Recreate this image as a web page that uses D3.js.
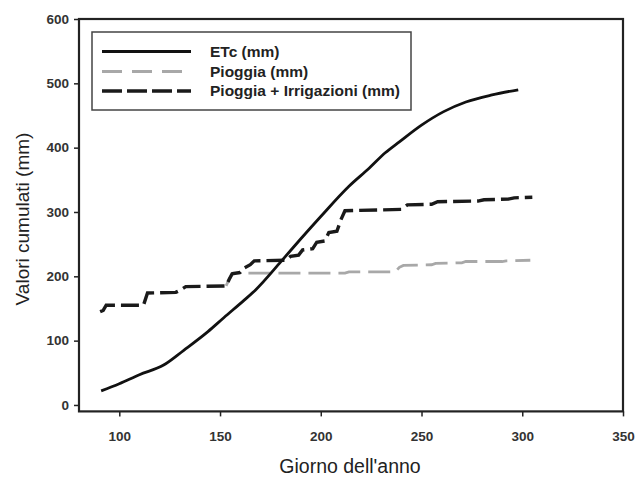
<!DOCTYPE html>
<html>
<head>
<meta charset="utf-8">
<script src="https://cdn.jsdelivr.net/npm/d3@7"></script>
<style>
  html, body { margin: 0; padding: 0; background: #fff; }
  svg { display: block; }
</style>
</head>
<body>
<svg id="chart" width="637" height="477"></svg>
<script>
// ---- data ----
const etcDays   = [91, 100, 110, 122, 132, 144, 152, 162, 168, 180, 190, 200, 214, 224, 232, 239, 250, 261, 272, 285, 298];
const etcValues = [22, 33, 47, 62, 85, 114, 136, 163, 180, 222, 258, 293, 340, 368, 392, 409, 435, 456, 471, 482, 490];

const rainDays   = [153, 154.5, 156.5, 212, 214, 237, 239, 241, 255, 257, 270, 272, 290, 292, 304];
const rainValues = [185, 195, 205, 205, 207, 207, 214, 217, 218, 220, 221, 223, 223, 224, 225];

const irrDays   = [90.5, 92, 93.5, 112, 114, 128, 130, 133, 153, 154.5, 156, 160, 162, 165, 167, 183, 185, 189, 191, 196, 198, 202, 204, 208, 210, 212, 240, 243, 255, 258, 278, 281, 293, 296, 305];
const irrValues = [145, 147, 155, 155, 174, 175, 178, 184, 185, 195, 204, 206, 213, 218, 224, 225, 231, 233, 241, 243, 253, 255, 268, 270, 288, 302, 304, 311, 312, 316, 317, 319, 320, 322, 323];

const xTicks = [100, 150, 200, 250, 300, 350];
const yTicks = [0, 100, 200, 300, 400, 500, 600];

const legendLabels = ["ETc (mm)", "Pioggia  (mm)", "Pioggia + Irrigazioni (mm)"];
const xTitle = "Giorno dell'anno";
const yTitle = "Valori cumulati (mm)";

// ---- drawing ----
const svg = d3.select("#chart");
const x = d3.scaleLinear().domain([80, 350]).range([79, 623]);
const y = d3.scaleLinear().domain([-10, 600]).range([411.4, 19]);

const zip = (a, b) => a.map((d, i) => [d, b[i]]);
const line = d3.line().x(d => x(d[0])).y(d => y(d[1]));
const smooth = d3.line().x(d => x(d[0])).y(d => y(d[1])).curve(d3.curveMonotoneX);

// axes
const fontTick = "bold 13.5px 'Liberation Sans', Arial, sans-serif";
const xAxis = d3.axisBottom(x).tickValues(xTicks).tickSize(5).tickPadding(15).tickFormat(d3.format("d"));
const yAxis = d3.axisLeft(y).tickValues(yTicks).tickSize(5).tickPadding(5).tickFormat(d3.format("d"));

const gx = svg.append("g").attr("transform", "translate(0,411.4)").call(xAxis);
const gy = svg.append("g").attr("transform", "translate(79,0)").call(yAxis);
[gx, gy].forEach(g => {
  g.select(".domain").remove();
  g.selectAll(".tick line").attr("stroke", "#222").attr("stroke-width", 1.5);
  g.selectAll(".tick text").style("font", fontTick).attr("fill", "#333");
});

// frame
svg.append("rect")
  .attr("x", 79).attr("y", 19)
  .attr("width", 623 - 79).attr("height", 411.4 - 19)
  .attr("fill", "none").attr("stroke", "#222").attr("stroke-width", 2.2);

// series
svg.append("path").datum(zip(rainDays, rainValues))
  .attr("d", line).attr("fill", "none")
  .attr("stroke", "#a8a8a8").attr("stroke-width", 2.8)
  .attr("stroke-dasharray", "22,8");

svg.append("path").datum(zip(irrDays, irrValues))
  .attr("d", line).attr("fill", "none")
  .attr("stroke", "#1a1a1a").attr("stroke-width", 3.4)
  .attr("stroke-dasharray", "18,6");

svg.append("path").datum(zip(etcDays, etcValues))
  .attr("d", smooth).attr("fill", "none")
  .attr("stroke", "#111").attr("stroke-width", 2.8);

// legend
const lg = svg.append("g");
lg.append("rect").attr("x", 92).attr("y", 32).attr("width", 319).attr("height", 78)
  .attr("fill", "#fff").attr("stroke", "#444").attr("stroke-width", 1.5);
const legendStyles = [
  {stroke: "#111", w: 2.8, dash: null},
  {stroke: "#a8a8a8", w: 2.8, dash: "20,10"},
  {stroke: "#1a1a1a", w: 3.4, dash: "20,5"}
];
const legendY = [51.5, 71.5, 91];
legendLabels.forEach((lab, i) => {
  const s = legendStyles[i];
  const l = lg.append("line").attr("x1", 102).attr("x2", 191)
    .attr("y1", legendY[i]).attr("y2", legendY[i])
    .attr("stroke", s.stroke).attr("stroke-width", s.w);
  if (s.dash) l.attr("stroke-dasharray", s.dash);
  lg.append("text").attr("x", 210).attr("y", legendY[i] + 5)
    .style("font", "bold 15.5px 'Liberation Sans', Arial, sans-serif")
    .attr("fill", "#222").text(lab);
});

// titles
svg.append("text").attr("x", 350).attr("y", 473).attr("text-anchor", "middle")
  .style("font", "19.5px 'Liberation Sans', Arial, sans-serif").attr("fill", "#222").text(xTitle);
svg.append("text").attr("transform", "translate(29,219) rotate(-90)").attr("text-anchor", "middle")
  .style("font", "19px 'Liberation Sans', Arial, sans-serif").attr("fill", "#222").text(yTitle);
</script>
</body>
</html>
